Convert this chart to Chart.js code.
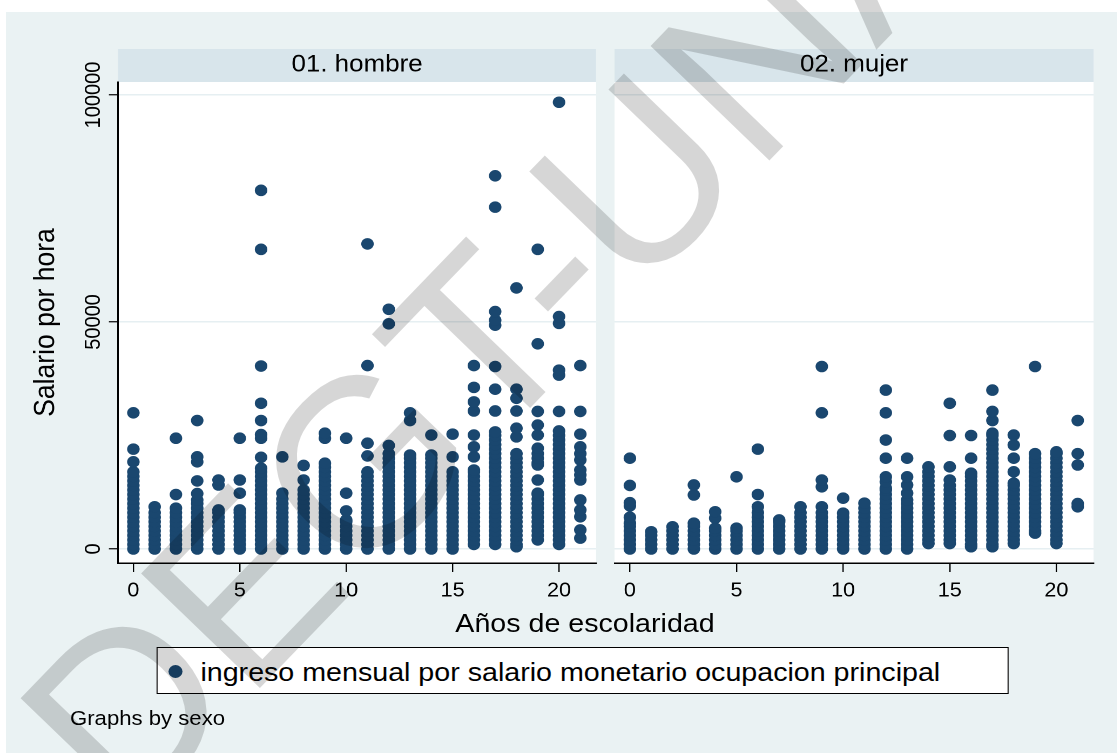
<!DOCTYPE html>
<html lang="es">
<head>
<meta charset="utf-8">
<title>Salario por hora y años de escolaridad, por sexo</title>
<script src="https://cdn.jsdelivr.net/npm/chart.js@4.4.1/dist/chart.umd.min.js"></script>
<style>
  html, body { margin: 0; padding: 0; background: #fff; }
  body { width: 1117px; height: 753px; position: relative; overflow: hidden; font-family: "Liberation Sans", Arial, sans-serif; }
  #fondo { position: absolute; left: 6px; top: 12px; right: 0; bottom: 0; background: #EAF2F3; }
  /* the reference is stretched a little in x, so the whole figure is drawn narrower and widened */
  #lienzo { position: absolute; left: 0; top: 0; width: 1034.3px; height: 753px; transform: scaleX(1.08); transform-origin: 0 0; }
  #lienzo canvas { position: absolute; top: 0; }
  #graf1 { left: 0; }
  #graf2 { left: 560px; }
  .texto { position: absolute; color: #000; white-space: nowrap; line-height: 1; }
  #tituloX { left: 341.7px; width: 400px; text-align: center; top: 610px; font-size: 26.5px; }
  #nota { left: 64.8px; top: 708px; font-size: 20.5px; }
  #leyenda { position: absolute; left: 145.4px; top: 647px; width: 789px; height: 47px; box-sizing: border-box; background: #fff; border: 1.5px solid #000; }
  #leyenda .punto { position: absolute; left: 9.5px; top: 16.5px; width: 13.3px; height: 13.3px; border-radius: 50%; background: #1A476F; }
  #leyenda .texto { left: 39.2px; top: 10.8px; font-size: 26.5px; }
  #marca { position: absolute; left: 0; top: 0; pointer-events: none; }
</style>
</head>
<body>
<div id="fondo"></div>
<div id="lienzo">
  <canvas id="graf1" width="560" height="620"></canvas>
  <canvas id="graf2" width="474" height="620"></canvas>
  <div class="texto" id="tituloX">Años de escolaridad</div>
  <div id="leyenda"><span class="punto"></span><span class="texto">ingreso mensual por salario monetario ocupacion principal</span></div>
  <div class="texto" id="nota">Graphs by sexo</div>
</div>
<canvas id="marca" width="1117" height="753"></canvas>

<script>
// años de escolaridad (one column of points per year)
const escolaridad = [0,1,2,3,4,5,6,7,8,9,10,11,12,13,14,15,16,17,18,19,20,21];

// salario por hora, in thousands, one list per year of schooling
const hombreMiles = [
  [0,1,2,3,4,5,6,7,8,9,10,11,12,13,14,15,16,17,19.2,22,30],
  [0,1,2,3,4,5,6,7,8,9.3],
  [0,1,2,3,4,5,6,7,8,9,12,24.4],
  [0,1,2,3,4,5,6,7,8,9,10,10.8,12.2,15,19.2,20.3,28.3],
  [0,1,2,3,4,5,6,7,8,8.6,14.1,15.2],
  [0,1,2,3,4,5,6,7,8,8.6,12.3,15.2,24.4],
  [0,1,2,3,4,5,6,7,8,9,10,11,12,13,14,15,16,17,17.8,20.2,24.4,25.2,28.3,32.1,40.3,66,79],
  [0,1,2,3,4,5,6,7,8,9,10,11,12.3,20.3],
  [0,1,2,3,4,5,6,7,8,9,10,11,12,13,15.2,18.4],
  [0,1,2,3,4,5,6,7,8,9,10,11,12,13,14,15,16,17,18,18.9,24.4,25.5],
  [0,1,2,3,4,5,6,6.4,8.4,12.3,24.4],
  [0,1,2,3,4,5,6,7,8,9,10,11,12,13,14,15,16,17,20.5,23.3,40.4,67.2],
  [0,1,2,3,4,5,6,7,8,9,10,11,12,13,14,15,16,17,18,19,20,21,22.8,49.6,52.8],
  [0,1,2,3,4,5,6,7,8,9,10,11,12,13,14,15,16,17,18,19,20,20.7,28.3,30],
  [0,1,2,3,4,5,6,7,8,9,10,11,12,13,14,15,16,17,18,19,20,20.7,25.1],
  [0,1,2,3,4,5,6,7,8,9,10,11,12,13,14,15,16,17,20.3,25.3],
  [1,2,3,4,5,6,7,8,9,10,11,12,13,14,15,16,17,17.4,20.3,22.5,25.1,30.4,32.4,35.6,40.4],
  [1,2,3,4,5,6,7,8,9,10,11,12,13,14,15,16,17,18,19,20,21,22,23,24,25,25.8,30.4,35.2,40.2,49.3,50.4,52.3,75.3,82.2],
  [0.5,1,2,3,4,5,6,7,8,9,10,11,12,13,14,15,16,17,18,19,20,21,24.7,26.6,30.4,33.2,35.2,57.5],
  [2,3,4,5,6,7,8,9,10,11,12,12.3,15.2,18.5,19,20,21,22.2,25.1,27.3,30.3,45.2,66],
  [1,2,3,4,5,6,7,8,9,10,11,12,13,14,15,16,17,18,19,20,21,22,23,24,25,26,30.3,38.3,39.4,49.7,51.2,98.4],
  [2.4,4.2,7.1,8.6,10.8,15.2,16.3,17.4,19.6,21,22.5,25.3,30.3,40.4]
];

const mujerMiles = [
  [0,1,2,3,4,5,5.7,7,9.5,10.2,14,20],
  [0,1,2,3,3.8],
  [0,1,2,3,4,4.9],
  [0,1,2,3,4,5,5.7,11.9,14.1],
  [0,1,2,3,4,4.6,6.8,8.2],
  [0,1,2,3,4,4.6,15.9],
  [0,1,2,3,4,5,6,7,8,9.3,12,22],
  [0,1,2,3,4,5,6,6.4],
  [0,1,2,3,4,5,6,7,8,9.3],
  [0,1,2,3,4,5,6,7,8,9.3,13.7,15.2,30,40.2],
  [0,1,2,3,4,5,6,7,7.9,11.2],
  [0,1,2,3,4,5,6,7,8,9,10.1],
  [0,1,2,3,4,5,6,7,8,9,10,11,12,13,13.4,14.8,15.9,20,24,30,35],
  [0,1,2,3,4,5,6,7,8,9,10,10.8,12.3,14.1,15.9,20],
  [1.2,2,3,4,5,6,7,8,9,10,11,12,13,14,15,16,17,18.1],
  [1.2,2,3,4,5,6,7,8,9,10,11,12,13,14,15.2,18.1,25,32.1],
  [0.5,1,2,3,4,5,6,7,8,9,10,11,12,13,14,15,16,16.7,20,25],
  [0.5,1,2,3,4,5,6,7,8,9,10,11,12,13,14,15,16,17,18,19,20,21,22,23,24,25,25.5,28.3,30.3,35],
  [1.2,2,3,4,5,6,7,8,9,10,11,12,13,14,14.5,17,20,22.9,25.1],
  [3.5,4,5,6,7,8,9,10,11,12,13,14,15,16,17,18,19,20,21,40.2],
  [1.2,2,3,4,5,6,7,8,9,10,11,12,13,14,15,16,17,18,19,20,21,21.4],
  [9.3,10,18.5,21,28.3]
];

const paneles = ["01. hombre", "02. mujer"];
const ticksX = [0, 5, 10, 15, 20];
const ticksY = [0, 50000, 100000];

const fuente = '"Liberation Sans", Arial, sans-serif';
const azul = "#1A476F";

function puntos(columnas) {
  const out = [];
  columnas.forEach((vals, i) => {
    vals.forEach(v => out.push({ x: escolaridad[i], y: v * 1000 }));
  });
  return out;
}

// white plot region and the grey-blue strip with the panel name
const franja = {
  id: "franja",
  beforeDraw(chart, args, opts) {
    const { ctx, chartArea: a } = chart;
    ctx.save();
    ctx.fillStyle = "#fff";
    ctx.fillRect(a.left, a.top, a.right - a.left, a.bottom - a.top);
    ctx.fillStyle = "#D8E5EB";
    ctx.fillRect(a.left, 49, a.right - a.left, a.top - 49);
    ctx.fillStyle = "#000";
    ctx.font = "24px " + fuente;
    ctx.textAlign = "center";
    ctx.textBaseline = "alphabetic";
    ctx.fillText(opts.texto, (a.left + a.right) / 2, 71.7);
    ctx.restore();
  }
};

// stata writes the y tick labels turned on their side
const etiquetasY = {
  id: "etiquetasY",
  afterDraw(chart) {
    const { ctx } = chart;
    const y = chart.scales.y;
    ctx.save();
    ctx.fillStyle = "#000";
    ctx.font = "20px " + fuente;
    ctx.textAlign = "center";
    ctx.textBaseline = "alphabetic";
    y.ticks.forEach(t => {
      ctx.save();
      ctx.translate(92.5, y.getPixelForValue(t.value));
      ctx.rotate(-Math.PI / 2);
      ctx.fillText(String(t.value), 0, 0);
      ctx.restore();
    });
    ctx.restore();
  }
};

function crear(id, columnas, titulo, izq) {
  return new Chart(document.getElementById(id), {
    type: "scatter",
    data: {
      datasets: [{
        label: "ingreso mensual por salario monetario ocupacion principal",
        data: puntos(columnas),
        pointRadius: 5.8,
        pointBorderWidth: 0,
        pointBackgroundColor: azul,
        pointHoverRadius: 5.8
      }]
    },
    options: {
      responsive: false,
      animation: false,
      devicePixelRatio: 2,
      events: [],
      layout: { padding: { left: 0, right: izq ? 8.1 : 21.5, top: 82, bottom: 0 } },
      plugins: {
        legend: { display: false },
        tooltip: { enabled: false },
        franja: { texto: titulo }
      },
      scales: {
        x: {
          type: "linear",
          min: -0.72,
          max: 21.74,
          afterBuildTicks: s => { s.ticks = ticksX.map(v => ({ value: v })); },
          afterFit: s => { s.height = 57; },
          grid: { drawOnChartArea: false, color: "#000", tickColor: "#000", tickLength: 9, lineWidth: 1.2 },
          border: { color: "#000", width: 1.5 },
          ticks: { color: "#000", padding: 6.8, maxRotation: 0, autoSkip: false, font: { family: fuente, size: 20 } }
        },
        y: {
          type: "linear",
          min: -3084,
          max: 102863,
          afterBuildTicks: s => { s.ticks = ticksY.map(v => ({ value: v })); },
          afterFit: s => { s.width = izq ? 109.3 : 9; },
          grid: { color: "#E6EFF2", lineWidth: 1.5, tickColor: "#000", tickLength: 8.5, tickWidth: 1.2, drawTicks: izq },
          border: { display: izq, color: "#000", width: 1.5 },
          ticks: { display: false },
          title: {
            display: izq,
            text: "Salario por hora",
            color: "#000",
            font: { family: fuente, size: 26.5 },
            padding: { top: 27, bottom: 0 }
          }
        }
      }
    },
    plugins: izq ? [franja, etiquetasY] : [franja]
  });
}

crear("graf1", hombreMiles, paneles[0], true);
crear("graf2", mujerMiles, paneles[1], false);

// grey watermark laid over the whole figure
const marca = document.getElementById("marca").getContext("2d");
marca.fillStyle = "rgba(0,0,0,0.16)";
marca.font = "240px " + fuente;
marca.textAlign = "center";
marca.textBaseline = "alphabetic";
marca.translate(626, 309);
marca.rotate(-46 * Math.PI / 180);
marca.fillText("DEGT-UNAM", 0, 0);
</script>
</body>
</html>
